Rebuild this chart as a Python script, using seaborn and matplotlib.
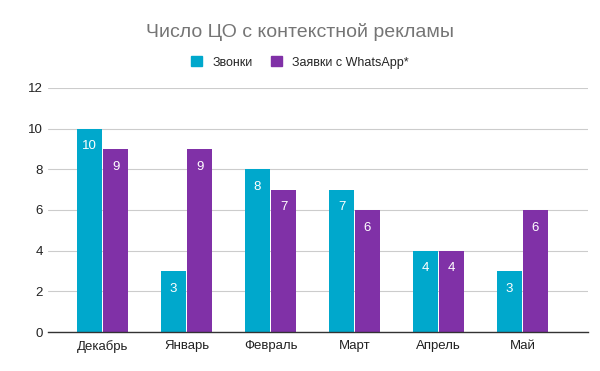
import matplotlib
matplotlib.use("Agg")
import matplotlib.pyplot as plt
import pandas as pd
import seaborn as sns

months = ["Декабрь", "Январь", "Февраль", "Март", "Апрель", "Май"]
calls = [10, 3, 8, 7, 4, 3]
whatsapp = [9, 9, 7, 6, 4, 6]
series_names = ["Звонки", "Заявки с WhatsApp*"]

cyan = "#00a8cc"
purple = "#8031a7"

df = pd.DataFrame({
    "month": months * 2,
    "value": calls + whatsapp,
    "series": [series_names[0]] * len(months) + [series_names[1]] * len(months),
})

sns.set_theme(style="white")
plt.rcParams["font.family"] = ["Liberation Sans", "DejaVu Sans"]

fig = plt.figure(figsize=(6, 3.71), dpi=100)
ax = fig.add_axes([0.08, 0.105, 0.90, 0.658])

sns.barplot(data=df, x="month", y="value", hue="series", palette=[cyan, purple],
            width=0.62, gap=0.04, ax=ax, legend=False, saturation=1, linewidth=0)

for cont in ax.containers:
    ax.bar_label(cont, labels=[str(int(v)) for v in cont.datavalues],
                 label_type="edge", padding=-17, color="white", fontsize=9.5)

ax.set_ylim(0, 12)
ax.set_yticks([0, 2, 4, 6, 8, 10, 12])
ax.set_xlim(-0.65, 5.78)
ax.yaxis.grid(True, color="#cccccc", linewidth=0.8)
ax.set_axisbelow(True)
for s in ["top", "right", "left"]:
    ax.spines[s].set_visible(False)
ax.spines["bottom"].set_color("#333333")
ax.spines["bottom"].set_linewidth(1)
ax.tick_params(axis="both", length=0, labelsize=9.5, colors="#222222")
ax.tick_params(axis="x", pad=6)
ax.set_xlabel("")
ax.set_ylabel("")

fig.text(0.5, 0.915, "Число ЦО с контекстной рекламы", ha="center", va="center",
         fontsize=14, color="#757575")

handles = [plt.Rectangle((0, 0), 1, 1, color=c) for c in (cyan, purple)]
fig.legend(handles, series_names, loc="center", bbox_to_anchor=(0.5, 0.832), ncol=2,
           frameon=False, fontsize=9, handlelength=0.9, handleheight=0.9,
           columnspacing=1.5, handletextpad=0.8)

fig.savefig("out.png", dpi=100)
